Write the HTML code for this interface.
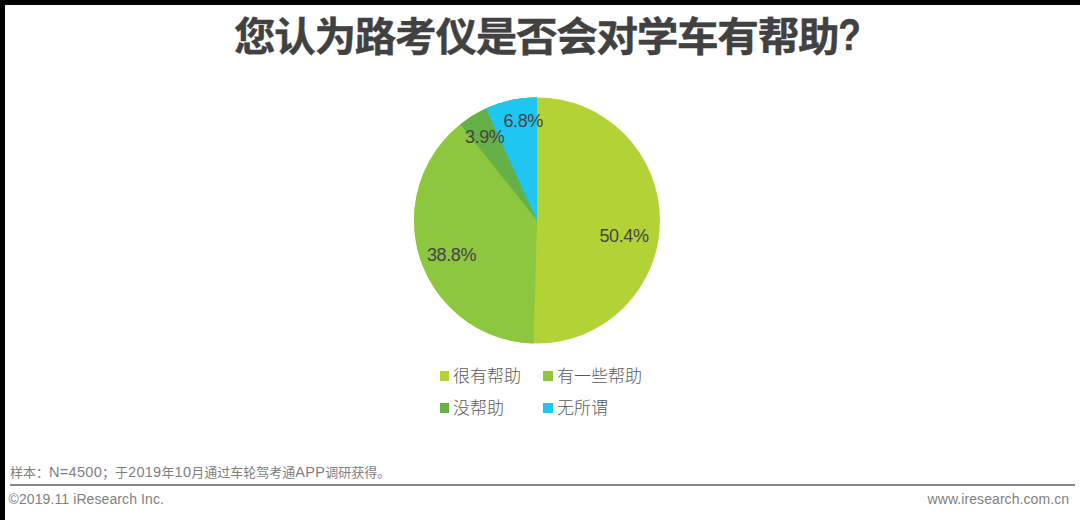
<!DOCTYPE html>
<html>
<head>
<meta charset="utf-8">
<style>
html,body{margin:0;padding:0;}
body{width:1080px;height:520px;background:#000;position:relative;overflow:hidden;
 font-family:"Liberation Sans","Noto Sans CJK SC",sans-serif;}
#page{position:absolute;left:5px;top:5px;width:1075px;height:515px;background:#fff;}
.t{position:absolute;white-space:nowrap;}
#title{left:229px;top:7.5px;font-size:40px;font-weight:bold;color:#414141;-webkit-text-stroke:0.4px #414141;line-height:48px;letter-spacing:-1.27px;transform:scaleX(1.04);transform-origin:0 0;}
svg{position:absolute;left:0;top:0;}
.lbl{position:absolute;font-size:18px;letter-spacing:-0.4px;color:#454545;line-height:20px;white-space:nowrap;}
.leg{position:absolute;font-size:17px;color:#595959;font-weight:300;line-height:20px;white-space:nowrap;}
.sq{position:absolute;width:9.5px;height:9.6px;}
#note{left:5px;top:459px;font-size:13px;color:#7f7f7f;line-height:16px;}
#q{display:inline-block;transform:translate(0px,-1.6px) scale(0.89,1.1);transform-origin:0 75%;}
.L{font-size:14.5px;letter-spacing:0.3px;}
#hr{position:absolute;left:5px;top:479px;width:1065px;height:2px;background:#888;}
#copy{left:3.5px;top:485px;font-size:14px;letter-spacing:0.1px;color:#7f7f7f;line-height:18px;}
#url{left:922.5px;top:485px;font-size:14px;letter-spacing:0.08px;color:#7f7f7f;line-height:18px;}
</style>
</head>
<body>
<div id="page">
<div class="t" id="title">您认为路考仪是否会对学车有帮助<span id="q">?</span></div>
<svg width="1075" height="515" viewBox="5 5 1075 515">
<circle cx="537" cy="220.5" r="123" fill="#b2d235"/>
<path d="M537,220.5 L533.52,343.45 A123,123 0 0 1 537,97.5 Z" fill="#8dc63f"/>
<path d="M537,220.5 L460.33,124.32 A123,123 0 0 1 537,97.5 Z" fill="#66b147"/>
<path d="M537,220.5 L485.98,108.58 A123,123 0 0 1 537,97.5 Z" fill="#1fc6f1"/>
</svg>
<div class="lbl" style="left:594.5px;top:220.5px;">50.4%</div>
<div class="lbl" style="left:422px;top:240px;">38.8%</div>
<div class="lbl" style="left:460px;top:121.5px;">3.9%</div>
<div class="lbl" style="left:498.5px;top:105.5px;">6.8%</div>

<div class="sq" style="left:434.6px;top:366.4px;background:#b2d235;"></div>
<div class="leg" style="left:448px;top:362px;">很有帮助</div>
<div class="sq" style="left:538.2px;top:366.4px;background:#8dc63f;"></div>
<div class="leg" style="left:552px;top:362px;">有一些帮助</div>
<div class="sq" style="left:434.6px;top:398.3px;background:#66b147;"></div>
<div class="leg" style="left:448px;top:394px;">没帮助</div>
<div class="sq" style="left:538.2px;top:398.3px;background:#1fc6f1;"></div>
<div class="leg" style="left:552px;top:394px;">无所谓</div>

<div class="t" id="note">样本：<span class="L">N=4500</span>；于<span class="L">2019</span>年<span class="L">10</span>月通过车轮驾考通<span class="L">APP</span>调研获得。</div>
<div id="hr"></div>
<div class="t" id="copy">©2019.11 iResearch Inc.</div>
<div class="t" id="url">www.iresearch.com.cn</div>
</div>
</body>
</html>
